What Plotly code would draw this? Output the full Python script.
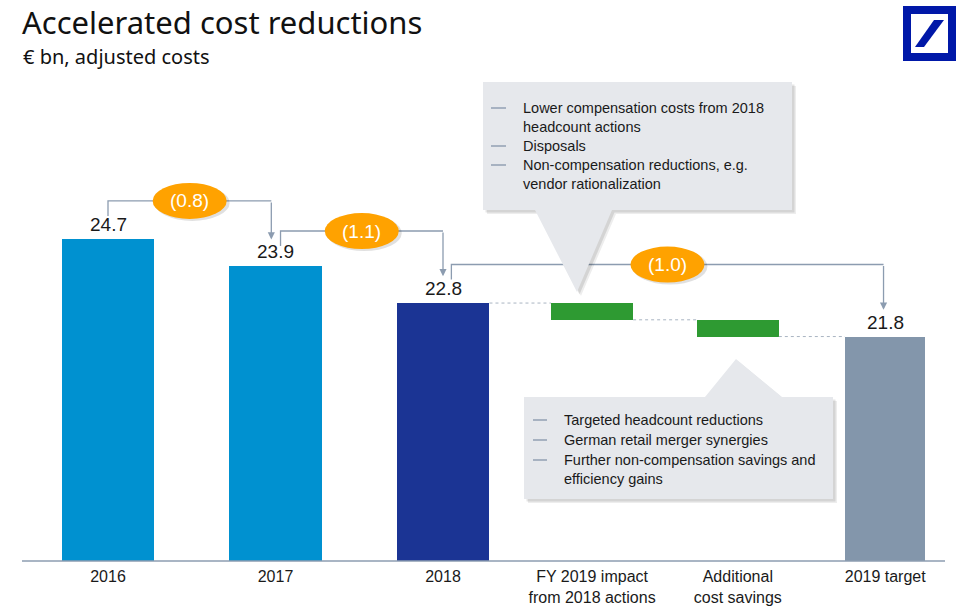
import plotly.graph_objects as go

# ---------------- data ----------------
CATEGORIES = ["2016", "2017", "2018", "FY 2019 impact<br>from 2018 actions",
              "Additional<br>cost savings", "2019 target"]
KIND = ["total", "total", "total", "step", "step", "total"]
VALUES = [24.7, 23.9, 22.8, -0.5, -0.5, 21.8]          # € bn
CHANGE_FROM = [0, 1, 2]
CHANGE_TO = [1, 2, 5]
CHANGES = [-0.8, -1.1, -1.0]
CALLOUT_TOP = [("Lower compensation costs from 2018", True), ("headcount actions", False),
               ("Disposals", True), ("Non-compensation reductions, e.g.", True),
               ("vendor rationalization", False)]
CALLOUT_BOTTOM = [("Targeted headcount reductions", True), ("German retail merger synergies", True),
                  ("Further non-compensation savings and", True), ("efficiency gains", False)]
TITLE = "Accelerated cost reductions"
SUBTITLE = "€ bn, adjusted costs"

# ---------------- layout / style ----------------
W, H = 971, 616
PLOT_BOTTOM = 561
SLOT_X = [0, 1, 2, 2.89, 3.76, 4.64]
BAR_W = [0.555, 0.555, 0.555, 0.49, 0.49, 0.48]
COLORS = ["#0091d0", "#0091d0", "#1b3494", "#2e9a32", "#2e9a32", "#8396ab"]
SLOT_PX, SLOT0_PX = 167.5, 108
Y_LO, PX_PER_UNIT = 15.1, 33.5
Y_HI = Y_LO + PLOT_BOTTOM / PX_PER_UNIT
GREY = "#8c9cb0"
ORANGE = "#ffa200"
TXT = "#1a1a1a"
FONT = "Liberation Sans, Arial, sans-serif"


def P(xp, yp):
    return xp / W, (PLOT_BOTTOM - yp) / PLOT_BOTTOM


def path(points, dx=0, dy=0):
    s = ""
    for i, (a, b) in enumerate(points):
        x, y = P(a + dx, b + dy)
        s += ("M" if i == 0 else "L") + f"{x:.5f},{y:.5f} "
    return s + "Z"


# running levels
bases, heights, levels = [], [], []
level = None
for k, v in zip(KIND, VALUES):
    if k == "total":
        bases.append(0)
        heights.append(v)
        level = v
        levels.append((v, v))
    else:
        bases.append(level)
        heights.append(v)
        levels.append((level, level + v))
        level = level + v

fig = go.Figure()
fig.add_trace(go.Bar(x=SLOT_X, y=heights, base=bases, width=BAR_W,
                     marker=dict(color=COLORS, line=dict(width=0)),
                     hoverinfo="skip", showlegend=False))

shapes, annos = [], []

# value labels on totals
for i, k in enumerate(KIND):
    if k == "total":
        annos.append(dict(x=SLOT_X[i], y=VALUES[i], xref="x", yref="y", text=f"{VALUES[i]:.1f}",
                          showarrow=False, yanchor="bottom", yshift=2,
                          font=dict(family=FONT, size=19, color=TXT)))

# dotted connectors between bar tops
for i in range(2, len(SLOT_X) - 1):
    lvl = levels[i][1]
    shapes.append(dict(type="line", xref="x", yref="y",
                       x0=SLOT_X[i] + BAR_W[i] / 2, x1=SLOT_X[i + 1] - BAR_W[i + 1] / 2,
                       y0=lvl, y1=lvl, line=dict(color="#a9b4c2", width=1, dash="dot")))

# baseline
x0, y0 = P(22, PLOT_BOTTOM)
x1, _ = P(945, PLOT_BOTTOM)
shapes.append(dict(type="line", xref="paper", yref="paper", x0=x0, x1=x1, y0=0, y1=0,
                   line=dict(color=GREY, width=1.5)))

# brackets with change ellipses
LIFT = [1.15, 1.05, 1.15]
LEFT_DX = [0, 0.03, 0.05]
RIGHT_DX = [-0.025, 0, -0.01]
for j, (a, b, c) in enumerate(zip(CHANGE_FROM, CHANGE_TO, CHANGES)):
    va, vb = VALUES[a], VALUES[b]
    by = va + LIFT[j]
    xa = SLOT_X[a] + LEFT_DX[j]
    xb = SLOT_X[b] + RIGHT_DX[j]
    shapes.append(dict(type="path", xref="x", yref="y",
                       path=f"M{xa},{by - 0.45} L{xa},{by} L{xb},{by}",
                       line=dict(color=GREY, width=1.3)))
    annos.append(dict(x=xb, y=vb + 0.8, ax=xb, ay=by, xref="x", yref="y", axref="x", ayref="y",
                      text="", showarrow=True, arrowhead=2, arrowsize=1.1, arrowwidth=1.3,
                      arrowcolor=GREY))
    cx = (xa + xb) / 2
    shapes.append(dict(type="circle", xref="x", yref="y", xsizemode="pixel", ysizemode="pixel",
                       xanchor=cx, yanchor=by, x0=-35, x1=40, y0=-20, y1=16,
                       fillcolor="rgba(0,0,0,0.12)", line=dict(width=0)))
    shapes.append(dict(type="circle", xref="x", yref="y", xsizemode="pixel", ysizemode="pixel",
                       xanchor=cx, yanchor=by, x0=-37, x1=37, y0=-18, y1=18,
                       fillcolor=ORANGE, line=dict(width=0)))
    annos.append(dict(x=cx, y=by, xref="x", yref="y", text=f"({abs(c):.1f})", showarrow=False,
                      font=dict(family=FONT, size=19, color="white")))


# callouts
def callout(poly, lines, dash_x0, dash_x1, text_x, line_y):
    for d, a in ((4, "rgba(0,0,0,0.07)"), (2.5, "rgba(0,0,0,0.10)")):
        shapes.append(dict(type="path", xref="paper", yref="paper", path=path(poly, d, d),
                           fillcolor=a, line=dict(width=0)))
    shapes.append(dict(type="path", xref="paper", yref="paper", path=path(poly),
                       fillcolor="#e6e8ec", line=dict(width=0)))
    for (t, dash), yy in zip(lines, line_y):
        if dash:
            xa, ya = P(dash_x0, yy)
            xb, _ = P(dash_x1, yy)
            shapes.append(dict(type="line", xref="paper", yref="paper", x0=xa, x1=xb, y0=ya, y1=ya,
                               line=dict(color="#7d8ea6", width=1.2)))
        xt, yt = P(text_x, yy)
        annos.append(dict(x=xt, y=yt, xref="paper", yref="paper", text=t, showarrow=False,
                          xanchor="left", yanchor="middle",
                          font=dict(family=FONT, size=14.5, color=TXT)))


callout([(483, 82), (792, 82), (792, 210), (612, 210), (577, 292), (535, 210), (483, 210)],
        CALLOUT_TOP, 491, 506, 521, [108, 127, 146, 165, 184])
callout([(524, 397), (705, 397), (736, 359), (782, 397), (833, 397), (833, 499), (524, 499)],
        CALLOUT_BOTTOM, 533, 547, 562, [420, 440, 460, 479])

# logo
lx0, ly0 = P(903, 6)
lx1, ly1 = P(956, 61)
shapes.append(dict(type="rect", xref="paper", yref="paper", x0=lx0, x1=lx1, y0=ly1, y1=ly0,
                   fillcolor="#0018a8", line=dict(width=0)))
ix0, iy0 = P(911, 14)
ix1, iy1 = P(948, 53)
shapes.append(dict(type="rect", xref="paper", yref="paper", x0=ix0, x1=ix1, y0=iy1, y1=iy0,
                   fillcolor="white", line=dict(width=0)))
shapes.append(dict(type="path", xref="paper", yref="paper",
                   path=path([(915, 47), (924, 47), (944, 20), (934, 20)]),
                   fillcolor="#0018a8", line=dict(width=0)))

# titles
tx, ty = P(20, 21.5)
annos.append(dict(x=tx, y=ty, xref="paper", yref="paper", text=TITLE, showarrow=False,
                  xanchor="left", yanchor="middle",
                  font=dict(family="Noto Sans, Open Sans, sans-serif", size=31, color="#111111")))
sx, sy = P(21, 56)
annos.append(dict(x=sx, y=sy, xref="paper", yref="paper", text=SUBTITLE, showarrow=False,
                  xanchor="left", yanchor="middle",
                  font=dict(family="Noto Sans, Open Sans, sans-serif", size=20, color="#111111")))

fig.update_layout(
    width=W, height=H, margin=dict(l=0, r=0, t=0, b=H - PLOT_BOTTOM),
    paper_bgcolor="white", plot_bgcolor="white",
    shapes=shapes, annotations=annos, bargap=0,
    xaxis=dict(range=[-SLOT0_PX / SLOT_PX, (W - SLOT0_PX) / SLOT_PX], tickvals=SLOT_X,
               ticktext=CATEGORIES, showgrid=False, zeroline=False, showline=False, ticks="",
               ticklabelstandoff=4,
               tickfont=dict(family="Liberation Sans Narrow, Arial Narrow, Liberation Sans, sans-serif",
                             size=16, color=TXT),
               fixedrange=True),
    yaxis=dict(range=[Y_LO, Y_HI], visible=False, fixedrange=True),
)

fig.write_html("out.html")
